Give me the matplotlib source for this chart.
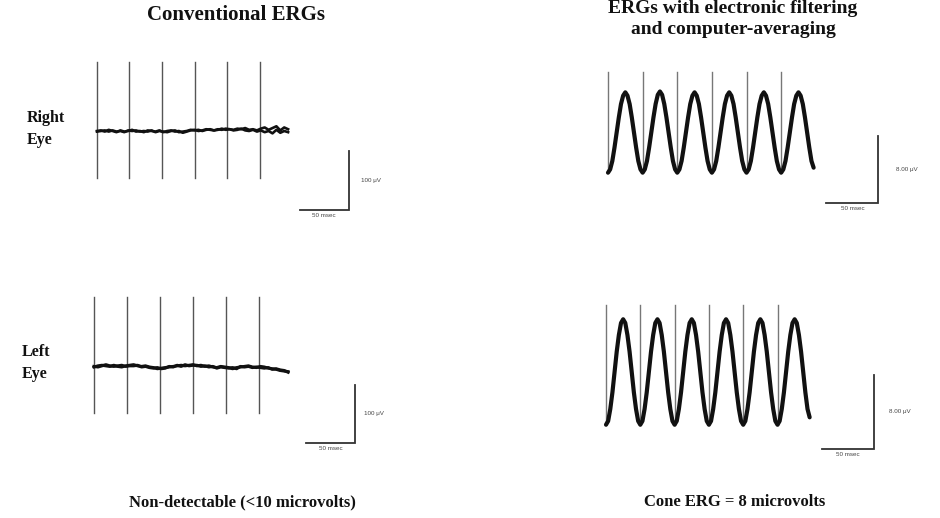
import numpy as np
import matplotlib
matplotlib.use("Agg")
import matplotlib.pyplot as plt

W, H = 940, 518

# stimulus flash times (ms) for the 30 Hz flicker
flash_ms = [0.0, 33.3, 66.7, 100.0, 133.3, 166.7]

# conventional recordings, two superimposed sweeps per eye (uV), 4 ms sampling
noise_dt = 4.0
right_conv_a = [0, 1, -1, 2, 0, -2, 1, -1, 0, 2, -1, 0, -2, 1, 0, -1, 1, -2, 0, 1,
                -1, 0, -3, -1, 1, 2, 0, 1, 3, 2, 1, 3, 2, 4, 3, 2, 4, 3, 5, 2,
                3, 1, 4, 6, 2, 5, 8, 1, 6, 3]
right_conv_b = [-1, 0, 1, -1, 1, -1, 0, -2, 1, 0, 1, -1, 0, -1, 1, -2, 0, -1, -2, 0,
                1, -2, -1, 0, 2, 1, 2, 0, 2, 3, 1, 2, 4, 2, 3, 1, 2, 4, 1, 0,
                2, -1, 1, -2, 0, -4, 2, -3, 0, -2]
left_conv_a = [0, 2, 3, 2, 1, 3, 1, 0, 2, 3, 4, 2, 1, 2, 0, -1, -3, -2, -1, 0,
               1, 2, 3, 2, 3, 4, 2, 3, 1, 2, 0, -1, 1, 0, -1, -3, -1, 0, 1, 2,
               0, -1, 1, 0, -2, -3, -4, -6, -7, -8]
left_conv_b = [1, 0, 2, 4, 2, 1, 2, 3, 1, 2, 2, 3, 0, 1, -1, -2, -1, -3, -2, 1,
               0, 3, 1, 4, 2, 3, 3, 1, 2, 0, 1, -2, 0, -1, -2, -1, -3, 1, 0, 1,
               -1, 0, -1, -2, -1, -4, -3, -5, -6, -9]

# filtered + averaged responses (uV), 2.08 ms sampling (16 per flash cycle)
avg_dt = 33.3 / 16
right_avg = [-4.8, -4.4, -3.4, -1.8, 0.0, 1.8, 3.4, 4.4, 4.8, 4.4, 3.4, 1.8, 0.0, -1.8, -3.4, -4.4,
             -4.8, -4.4, -3.4, -1.8, 0.0, 1.8, 3.4, 4.5, 4.9, 4.5, 3.4, 1.8, 0.0, -1.8, -3.4, -4.4,
             -4.8, -4.4, -3.4, -1.8, 0.0, 1.8, 3.4, 4.4, 4.8, 4.4, 3.4, 1.8, 0.0, -1.8, -3.4, -4.4,
             -4.8, -4.4, -3.4, -1.8, 0.0, 1.8, 3.4, 4.4, 4.8, 4.4, 3.4, 1.8, 0.0, -1.8, -3.4, -4.4,
             -4.8, -4.4, -3.4, -1.8, 0.0, 1.8, 3.4, 4.4, 4.8, 4.4, 3.4, 1.8, 0.0, -1.8, -3.4, -4.4,
             -4.8, -4.4, -3.4, -1.8, 0.0, 1.8, 3.4, 4.4, 4.8, 4.4, 3.4, 1.8, 0.0, -1.8, -3.4, -4.2]
left_avg = [-5.7, -5.3, -4.0, -2.2, 0.0, 2.2, 4.0, 5.3, 5.7, 5.3, 4.0, 2.2, 0.0, -2.2, -4.0, -5.3,
            -5.7, -5.3, -4.0, -2.2, 0.0, 2.2, 4.0, 5.3, 5.7, 5.3, 4.0, 2.2, 0.0, -2.2, -4.0, -5.3,
            -5.7, -5.3, -4.0, -2.2, 0.0, 2.2, 4.0, 5.3, 5.7, 5.3, 4.0, 2.2, 0.0, -2.2, -4.0, -5.3,
            -5.7, -5.3, -4.0, -2.2, 0.0, 2.2, 4.0, 5.3, 5.7, 5.3, 4.0, 2.2, 0.0, -2.2, -4.0, -5.3,
            -5.7, -5.3, -4.0, -2.2, 0.0, 2.2, 4.0, 5.3, 5.7, 5.3, 4.0, 2.2, 0.0, -2.2, -4.0, -5.3,
            -5.7, -5.3, -4.0, -2.2, 0.0, 2.2, 4.0, 5.3, 5.7, 5.3, 4.0, 2.2, 0.0, -2.2, -4.0, -4.9]

scale_ms = 50
scale_conv_uv = 100
scale_avg_uv = 8.0

serif = ["Liberation Serif", "DejaVu Serif"]
sans = ["Liberation Sans", "DejaVu Sans"]


def panel(fig, origin, px_ms, px_uv, box):
    """Axes in ms / uV, placed on a pixel box of the figure."""
    ox, oy = origin
    left, top, right, bottom = box
    ax = fig.add_axes([left / W, 1 - bottom / H, (right - left) / W, (bottom - top) / H])
    ax.set_xlim((left - ox) / px_ms, (right - ox) / px_ms)
    ax.set_ylim((oy - bottom) / px_uv, (oy - top) / px_uv)
    ax.axis("off")
    return ax


def flashes(ax, lo, hi, color):
    for t in flash_ms:
        ax.plot([t, t], [lo, hi], color=color, lw=1.0, zorder=1)


def scale_bar(ax, t, v, uv, label, dx):
    ax.plot([t - scale_ms, t, t], [v, v, v + uv], color="#333333", lw=1.3,
            solid_joinstyle="miter")
    ax.annotate(label, (t, v + uv / 2), xytext=(dx, 0), textcoords="offset points",
                ha="left", va="center", fontsize=4.5, family=sans, color="#444444")
    ax.annotate("50 msec", (t - scale_ms / 2, v), xytext=(0, -2), textcoords="offset points",
                ha="center", va="top", fontsize=4.5, family=sans, color="#444444")


fig = plt.figure(figsize=(W / 100, H / 100), dpi=100)

# conventional, right eye
ax = panel(fig, (97, 131), 0.975, 0.59, (85, 50, 430, 230))
flashes(ax, -80, 117, "#555555")
t = np.arange(len(right_conv_a)) * noise_dt
ax.plot(t, right_conv_a, color="#111111", lw=1.9, solid_joinstyle="round")
ax.plot(t, right_conv_b, color="#111111", lw=1.9, solid_joinstyle="round")
scale_bar(ax, 258, -134, scale_conv_uv, "100 \u03bcV", 9)

# conventional, left eye
ax = panel(fig, (94, 367), 0.99, 0.58, (85, 285, 430, 465))
flashes(ax, -79, 120, "#555555")
t = np.arange(len(left_conv_a)) * noise_dt
ax.plot(t, left_conv_a, color="#111111", lw=2.2, solid_joinstyle="round")
ax.plot(t, left_conv_b, color="#111111", lw=2.2, solid_joinstyle="round")
scale_bar(ax, 264, -131, scale_conv_uv, "100 \u03bcV", 6)

# averaged, right eye
ax = panel(fig, (608, 132.5), 1.04, 8.375, (595, 60, 935, 225))
flashes(ax, -4.6, 7.2, "#777777")
t = np.arange(len(right_avg)) * avg_dt
ax.plot(t, right_avg, color="#111111", lw=3.0, solid_joinstyle="round",
        solid_capstyle="round")
scale_bar(ax, 260, -8.4, scale_avg_uv, "8.00 \u03bcV", 13)

# averaged, left eye
ax = panel(fig, (606, 372), 1.03, 9.25, (595, 295, 935, 470))
flashes(ax, -5.7, 7.2, "#777777")
t = np.arange(len(left_avg)) * avg_dt
ax.plot(t, left_avg, color="#111111", lw=3.0, solid_joinstyle="round",
        solid_capstyle="round")
scale_bar(ax, 260, -8.3, scale_avg_uv, "8.00 \u03bcV", 11)

txt = dict(family=serif, weight="bold", color="#111111")
fig.text(236 / W, 1 - 15 / H, "Conventional ERGs", ha="center", va="center",
         fontsize=15, **txt)
fig.text(733 / W, 1 - 19 / H, "ERGs with electronic filtering\nand computer-averaging",
         ha="center", va="center", linespacing=1.25, fontsize=14, **txt)
fig.text(27 / W, 1 - 129 / H, "Right\nEye", ha="left", va="center", linespacing=1.5,
         fontsize=11.5, **txt)
fig.text(22 / W, 1 - 363 / H, "Left\nEye", ha="left", va="center", linespacing=1.5,
         fontsize=11.5, **txt)
fig.text(242 / W, 1 - 502 / H, "Non-detectable (<10 microvolts)", ha="center", va="center",
         fontsize=12, **txt)
fig.text(735 / W, 1 - 502 / H, "Cone ERG = 8 microvolts", ha="center", va="center",
         fontsize=12, **txt)

fig.savefig("out.png", dpi=100, facecolor="white")
